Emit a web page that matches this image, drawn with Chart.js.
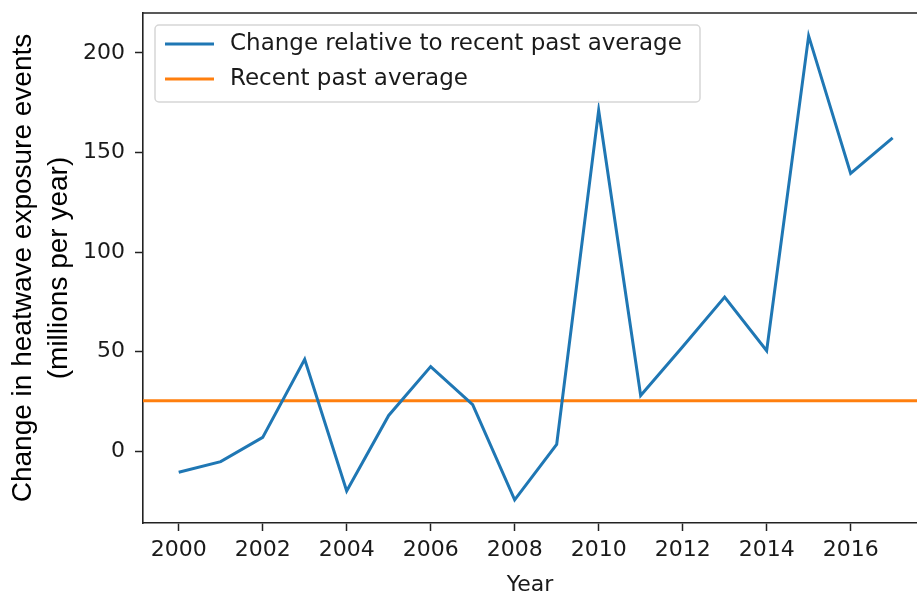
<!DOCTYPE html>
<html>
<head>
<meta charset="utf-8">
<script src="https://cdn.jsdelivr.net/npm/chart.js@4"></script>
<style>
  html, body { margin: 0; padding: 0; background: #fff; overflow: hidden; }
  #wrap { width: 917px; height: 594px; position: relative; }
</style>
</head>
<body>
<div id="wrap"><canvas id="c" width="917" height="594"></canvas></div>
<script>
// ---- data ----
const years = [2000, 2001, 2002, 2003, 2004, 2005, 2006, 2007, 2008, 2009, 2010, 2011, 2012, 2013, 2014, 2015, 2016, 2017];
const changeValues = [-10.5, -5.2, 7, 46.2, -19.9, 18, 42.5, 23.4, -24.4, 3.4, 171.1, 28, 52.5, 77.4, 50.5, 208.5, 139.5, 157.3];
const recentPastAverage = 25.4;
const xTicks = [2000, 2002, 2004, 2006, 2008, 2010, 2012, 2014, 2016];
const yTicks = [0, 50, 100, 150, 200];
const seriesLabels = ['Change relative to recent past average', 'Recent past average'];
const xLimits = [1999.15, 2017.58];
const yLimits = [-36, 220];

const BLUE = '#1f77b4';
const ORANGE = '#ff7f0e';
const TICK_FONT = { family: 'DejaVu Sans', size: 22 };

const changePoints = years.map((y, i) => ({ x: y, y: changeValues[i] }));
const avgPoints = xLimits.map(x => ({ x: x, y: recentPastAverage }));

const framePlugin = {
  id: 'frame',
  afterDraw(chart) {
    const { ctx, chartArea: a } = chart;
    ctx.save();
    ctx.strokeStyle = '#222';
    ctx.lineWidth = 1.6;
    ctx.beginPath();
    ctx.moveTo(a.left, a.top);
    ctx.lineTo(a.right + 2, a.top);
    ctx.stroke();
    ctx.restore();
  }
};

const boxLegendPlugin = {
  id: 'boxLegend',
  afterDatasetsDraw(chart) {
    const { ctx, chartArea: a } = chart;
    const x0 = a.left + 12, y0 = a.top + 12, w = 545, h = 77;
    ctx.save();
    ctx.beginPath();
    const r = 4;
    ctx.moveTo(x0 + r, y0);
    ctx.arcTo(x0 + w, y0, x0 + w, y0 + h, r);
    ctx.arcTo(x0 + w, y0 + h, x0, y0 + h, r);
    ctx.arcTo(x0, y0 + h, x0, y0, r);
    ctx.arcTo(x0, y0, x0 + w, y0, r);
    ctx.closePath();
    ctx.fillStyle = 'rgba(255,255,255,0.8)';
    ctx.fill();
    ctx.strokeStyle = '#d6d6d6';
    ctx.lineWidth = 1.5;
    ctx.stroke();
    ctx.font = '23px "DejaVu Sans"';
    ctx.textBaseline = 'middle';
    ctx.fillStyle = '#1a1a1a';
    chart.data.datasets.forEach((ds, i) => {
      const cy = y0 + 19 + i * 35;
      ctx.strokeStyle = ds.borderColor;
      ctx.lineWidth = 3;
      ctx.beginPath();
      ctx.moveTo(x0 + 10, cy);
      ctx.lineTo(x0 + 59, cy);
      ctx.stroke();
      ctx.fillText(ds.label, x0 + 75, cy);
    });
    ctx.restore();
  }
};

new Chart(document.getElementById('c'), {
  type: 'line',
  data: {
    datasets: [
      { label: seriesLabels[0], data: changePoints, borderColor: BLUE, backgroundColor: BLUE, borderWidth: 3, pointRadius: 0, tension: 0, fill: false },
      { label: seriesLabels[1], data: avgPoints, borderColor: ORANGE, backgroundColor: ORANGE, borderWidth: 3, pointRadius: 0, tension: 0, fill: false }
    ]
  },
  options: {
    responsive: false,
    animation: false,
    events: [],
    layout: { padding: { top: 13, right: 0, bottom: 0, left: 0 } },
    plugins: {
      legend: { display: false },
      tooltip: { enabled: false }
    },
    scales: {
      x: {
        type: 'linear',
        min: xLimits[0],
        max: xLimits[1],
        afterBuildTicks(scale) { scale.ticks = xTicks.map(v => ({ value: v })); },
        afterFit(scale) { scale.height = 71; scale.paddingLeft = 0; scale.paddingRight = 0; },
        ticks: { font: TICK_FONT, color: '#1a1a1a', padding: 6, maxRotation: 0, autoSkip: false, callback: v => String(v) },
        grid: { display: true, drawOnChartArea: false, drawTicks: true, tickLength: 8, tickColor: '#222', tickWidth: 1.5 },
        border: { display: true, color: '#222', width: 1.6 },
        title: { display: true, text: 'Year', color: '#1a1a1a', font: { family: 'DejaVu Sans', size: 22, lineHeight: 0.8 }, padding: 0 }
      },
      y: {
        type: 'linear',
        min: yLimits[0],
        max: yLimits[1],
        afterBuildTicks(scale) { scale.ticks = yTicks.map(v => ({ value: v })); },
        afterFit(scale) { scale.width = 143; scale.paddingTop = 0; scale.paddingBottom = 0; },
        ticks: { font: TICK_FONT, color: '#1a1a1a', padding: 10 },
        grid: { display: true, drawOnChartArea: false, drawTicks: true, tickLength: 8, tickColor: '#222', tickWidth: 1.5 },
        border: { display: true, color: '#222', width: 1.6 },
        title: {
          display: true,
          text: ['Change in heatwave exposure events', '(millions per year)'],
          color: '#000',
          font: { family: 'Liberation Sans', size: 28, lineHeight: 1.3 },
          padding: { top: 5, bottom: 0 }
        }
      }
    }
  },
  plugins: [framePlugin, boxLegendPlugin]
});
</script>
</body>
</html>
